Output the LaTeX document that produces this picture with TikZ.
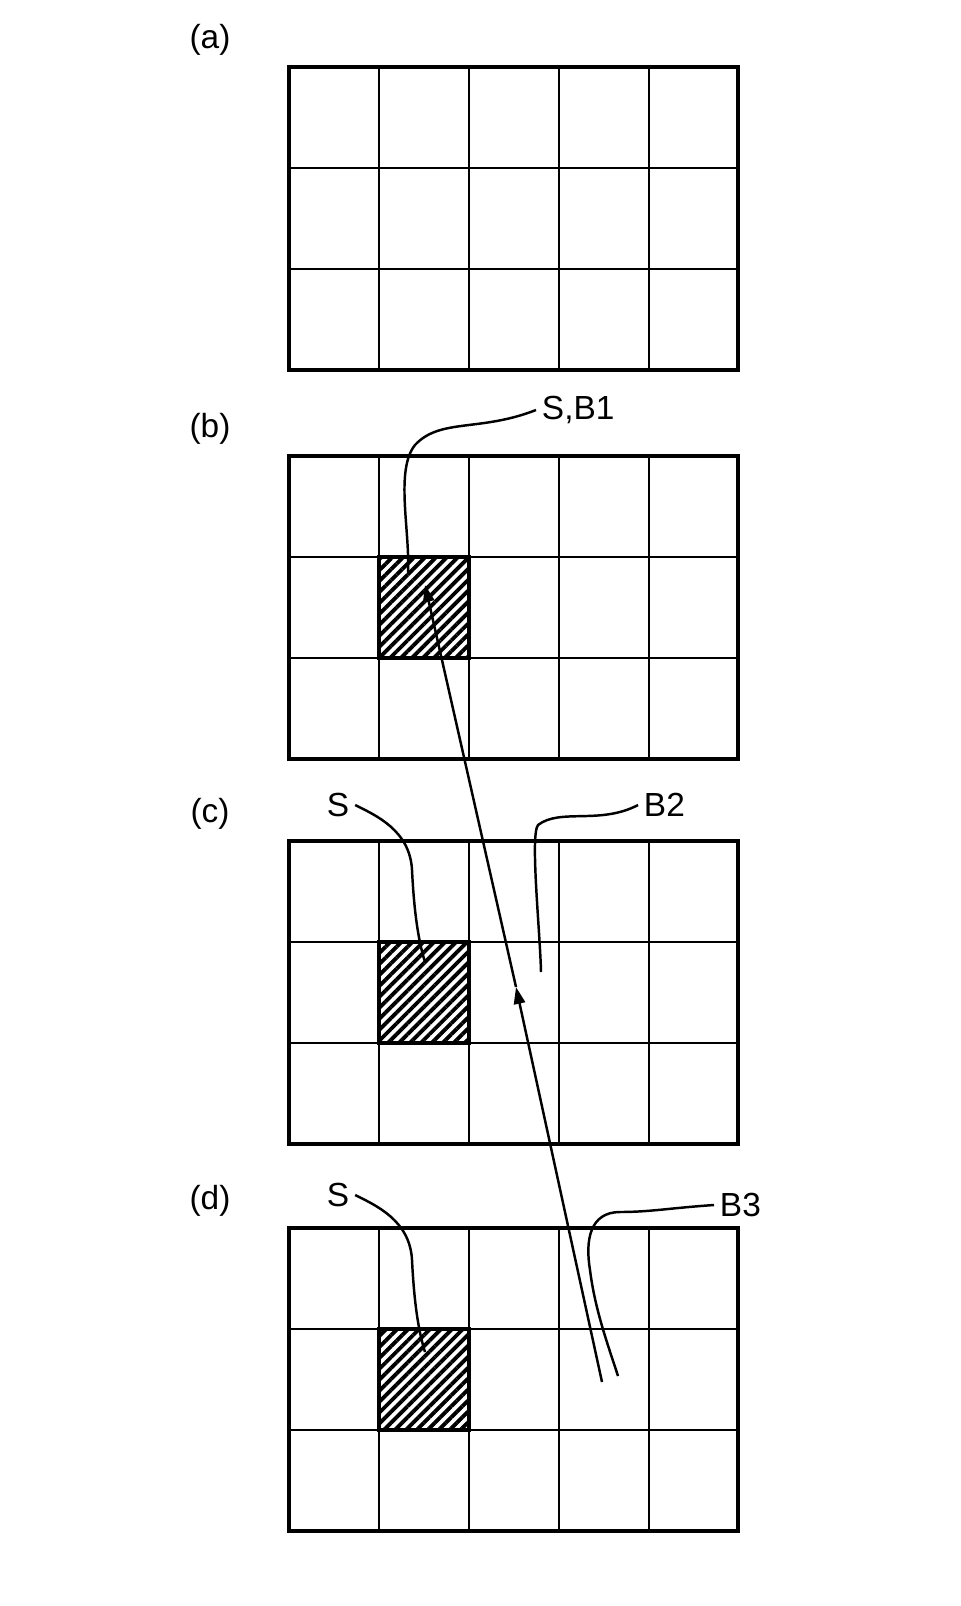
\documentclass[tikz,border=0pt]{standalone}
\usepackage{fontspec}
\setmainfont{Liberation Sans}
\usetikzlibrary{patterns.meta,arrows.meta}
\begin{document}
\begin{tikzpicture}[x=0.01cm,y=-0.01cm,
    thin grid/.style={line width=0.4pt},
    frame/.style={line width=1.1pt},
    leader/.style={line width=0.7pt},
    lbl/.style={inner sep=1.5pt, font=\fontsize{9.5}{10}\selectfont},
    hatch/.style={pattern={Lines[angle=45,distance=2.2pt,line width=1.1pt]}, pattern color=black}]
  \useasboundingbox (0,0) rectangle (961,1606);
  % Panels
  \foreach \top/\name in {67/a, 456/b, 841/c, 1228/d}{
    \node[lbl] (lab-\name) at (210,\top-27) {(\name)};
    \foreach \x in {379,469,559,649}
      \draw[thin grid] (\x,\top) -- (\x,\top+303);
    \foreach \y in {101,202}
      \draw[thin grid] (289,\top+\y) -- (738,\top+\y);
    \draw[frame] (289,\top) rectangle (738,\top+303);
  }
  % Shaded cells
  \foreach \top in {456, 841, 1228}{
    \fill[hatch] (379,\top+101) rectangle (469,\top+202);
    \draw[line width=1pt] (379,\top+101) rectangle (469,\top+202);
  }
  % Labels
  \node[lbl, anchor=west] (sb1) at (536,410) {S,B1};
  \node[lbl] (s-c) at (338,805) {S};
  \node[lbl, anchor=west] (b2) at (638,805) {B2};
  \node[lbl] (s-d) at (338,1195) {S};
  \node[lbl, anchor=west] (b3) at (714,1205) {B3};
  % Path of the beam
  \coordinate (start) at (602,1382);
  \coordinate (mid) at (516,987);
  \coordinate (end) at (425,585);
  \draw[leader, -{Triangle[length=4.8pt, width=3.2pt]}] (start) -- (mid);
  \draw[leader, -{Triangle[length=4.8pt, width=3.2pt]}] (mid) -- (end);
  % Leaders
  \draw[leader] (sb1.west) .. controls (480,432) and (440,418) .. (415,445)
     .. controls (395,470) and (410,530) .. (408,572);
  \draw[leader] (s-c.east) .. controls (375,815) and (410,830) .. (412,870)
     .. controls (414,910) and (418,940) .. (425,962);
  \draw[leader] (b2.west) .. controls (600,825) and (560,808) .. (538,825)
     .. controls (530,835) and (540,930) .. (541,972);
  \draw[leader] (s-d.east) .. controls (375,1205) and (410,1220) .. (412,1260)
     .. controls (414,1300) and (418,1330) .. (425,1352);
  \draw[leader] (b3.west) .. controls (670,1208) and (650,1212) .. (620,1212)
     .. controls (590,1212) and (585,1240) .. (590,1270)
     .. controls (595,1310) and (608,1345) .. (618,1376);
\end{tikzpicture}
\end{document}
